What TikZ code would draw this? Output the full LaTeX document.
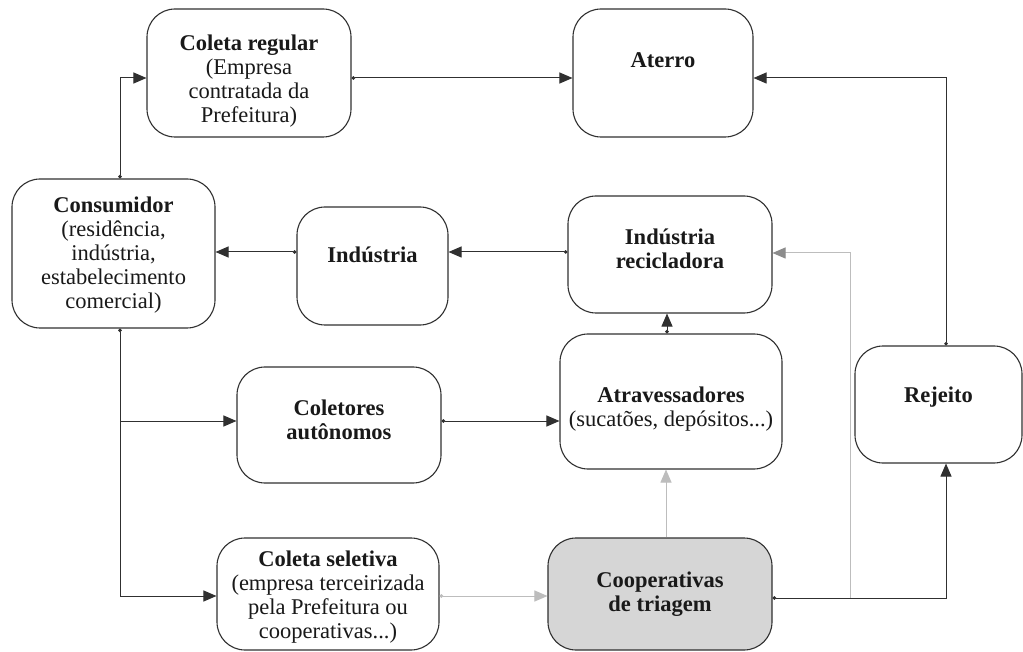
\documentclass[tikz,border=0pt]{standalone}
\usepackage{fontspec}
\setmainfont{Liberation Serif}
\usetikzlibrary{arrows.meta,calc}
\definecolor{lc}{HTML}{303030}
\definecolor{gl}{HTML}{BDBDBD}
\definecolor{gt}{HTML}{8C8C8C}
\definecolor{cf}{HTML}{D6D6D6}
\begin{document}
\begin{tikzpicture}[x=1pt,y=-1pt,
  box/.style={draw=lc, line width=1.1pt, rounded corners=28pt, inner sep=0pt},
  txt/.style={align=center, font=\fontsize{22.5}{24}\selectfont, inner sep=0pt, text=black!90},
  arr/.style={draw=lc, line width=1pt, {Circle[length=3.5pt]}-{Triangle[length=13pt,width=11pt]}},
  tip/.style={draw=lc, line width=1pt, -{Triangle[length=13pt,width=11pt]}},
  garr/.style={draw=gl, line width=1pt, {Circle[length=3.5pt]}-{Triangle[length=13pt,width=11pt]}},
  gtip/.style={draw=gl, line width=1pt, -{Triangle[length=13pt,width=11pt]}},
  gtip2/.style={draw=gl, line width=1pt, -{Triangle[length=13pt,width=11pt,color=gt]}}]
\fill[white] (0,0) rectangle (1023,652);
\useasboundingbox (0,0) rectangle (1023,652);

% boxes
\node[box, minimum width=204pt, minimum height=128pt] (creg) at (249,73) {};
\node[box, minimum width=180pt, minimum height=128pt] (aterro) at (663,73) {};
\node[box, minimum width=203pt, minimum height=149pt] (cons) at (113.5,253.5) {};
\node[box, minimum width=151pt, minimum height=118pt] (ind) at (372.5,266) {};
\node[box, minimum width=204pt, minimum height=117pt] (irec) at (670,254.5) {};
\node[box, minimum width=222pt, minimum height=135pt] (atrav) at (671,401.5) {};
\node[box, minimum width=204pt, minimum height=116pt] (colet) at (339,425) {};
\node[box, minimum width=167pt, minimum height=117pt] (rej) at (938.5,404.5) {};
\node[box, minimum width=222pt, minimum height=112pt] (csel) at (328,594) {};
\node[box, fill=cf, minimum width=224pt, minimum height=112pt] (coop) at (660,594) {};

% texts
\node[txt] (cregT) at (249,81) {\textbf{Coleta regular}\\(Empresa\\contratada da\\Prefeitura)};
\node[txt] (aterroT) at (663,60) {\textbf{Aterro}};
\node[txt] (consT) at (113.5,255) {\textbf{Consumidor}\\(residência,\\indústria,\\estabelecimento\\comercial)};
\node[txt] (indT) at (372.5,255) {\textbf{Indústria}};
\node[txt] (irecT) at (670,249) {\textbf{Indústria}\\\textbf{recicladora}};
\node[txt] (atravT) at (671,409) {\textbf{Atravessadores}\\(sucatões, depósitos...)};
\node[txt] (coletT) at (339,420) {\textbf{Coletores}\\\textbf{autônomos}};
\node[txt] (rejT) at (938.5,397) {\textbf{Rejeito}};
\node[txt] (cselT) at (328,597) {\textbf{Coleta seletiva}\\(empresa terceirizada\\pela Prefeitura ou\\cooperativas...)};
\node[txt] (coopT) at (660,594) {\textbf{Cooperativas}\\\textbf{de triagem}};

% helper coordinates
\coordinate (yA) at ([yshift=-5pt]creg.west);
\coordinate (yD) at ([yshift=2.5pt]irec.west);
\coordinate (yG) at ([yshift=4pt]colet.west);
\coordinate (yH) at ([yshift=-2pt]csel.west);
\coordinate (yK) at ([yshift=-4pt]coop.east);
\coordinate (kj) at ([xshift=78pt]yK);
\coordinate (yL) at ([yshift=1.5pt]irec.east);

% connectors
\draw[arr] ([xshift=6.5pt]cons.north) |- (yA);
\draw[arr] ([yshift=-5pt]creg.east) -- ([yshift=-5pt]aterro.west);
\draw[arr] ([xshift=7.5pt]rej.north) |- ([yshift=-5pt]aterro.east);
\draw[arr] (yD) -- (yD -| ind.east);
\draw[arr] (yD -| ind.west) -- (yD -| cons.east);
\draw[arr] ([xshift=-4pt]atrav.north) -- ([xshift=-4pt]atrav.north |- irec.south);
\draw[arr] (yG -| colet.east) -- (yG -| atrav.west);
\coordinate (cb) at ([xshift=6.5pt]cons.south);
\draw[arr] (cb) |- (yH);
\draw[tip] (cb |- yG) -- (yG);
\draw[gtip2] (kj) |- (yL);
\draw[arr] (yK) -| ([xshift=7.5pt]rej.south);
\draw[garr] (yH -| csel.east) -- (yH -| coop.west);
\draw[gtip] ([xshift=6pt]coop.north) -- ([xshift=6pt]coop.north |- atrav.south);
\end{tikzpicture}
\end{document}
